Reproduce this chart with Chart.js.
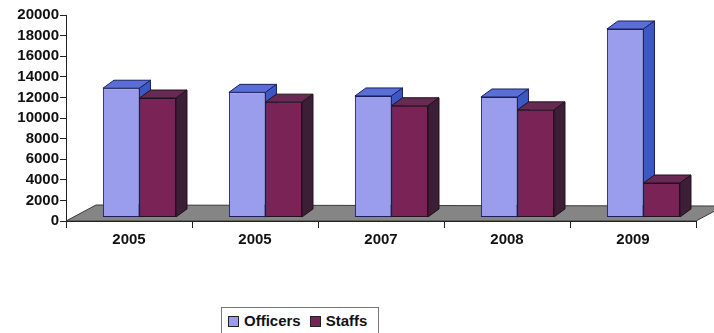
<!DOCTYPE html>
<html>
<head>
<meta charset="utf-8">
<script src="https://cdn.jsdelivr.net/npm/chart.js@4"></script>
<style>
  html, body { margin: 0; padding: 0; background: #fff; }
  #wrap { position: relative; width: 714px; height: 333px; }
  #legend {
    position: absolute; left: 221px; top: 307px; width: 158px; height: 30px;
    border: 1px solid #777; box-sizing: border-box; background: #fff;
    font: bold 15px "Liberation Sans", Arial, sans-serif; color: #111;
    display: flex; align-items: flex-start; padding: 4px 0 0 6px;
  }
  #legend span.box { display: inline-block; width: 9px; height: 9px; border: 1px solid #222; margin: 4px 5px 0 0; }
  #legend span.lbl { margin-right: 9px; }
</style>
</head>
<body>
<div id="wrap">
  <canvas id="c" width="714" height="333"></canvas>
  <div id="legend"></div>
</div>
<script>
const years = ['2005', '2005', '2007', '2008', '2009'];
const officers = [12500, 12100, 11750, 11650, 18250];
const staffs = [11550, 11150, 10800, 10400, 3300];
const yTicks = [0, 2000, 4000, 6000, 8000, 10000, 12000, 14000, 16000, 18000, 20000];

const colors = {
  officers: { front: '#9a9cec', top: '#5a6fd6', side: '#3c58c4', line: '#1c1f5e' },
  staffs: { front: '#7a2356', top: '#672a52', side: '#3b1f36', line: '#26101f' }
};

const FONT = { family: '"Liberation Sans", Arial, sans-serif', size: 15, weight: 'bold' };
const depth = { dx: 11, dy: -8 };

function faces(ctx, bar, c) {
  const p = bar.getProps(['x', 'y', 'base', 'width'], true);
  const l = p.x - p.width / 2, r = p.x + p.width / 2;
  ctx.lineWidth = 1;
  ctx.strokeStyle = c.line;
  // top
  ctx.beginPath();
  ctx.moveTo(l, p.y);
  ctx.lineTo(l + depth.dx, p.y + depth.dy);
  ctx.lineTo(r + depth.dx, p.y + depth.dy);
  ctx.lineTo(r, p.y);
  ctx.closePath();
  ctx.fillStyle = c.top;
  ctx.fill();
  ctx.stroke();
  // side
  ctx.beginPath();
  ctx.moveTo(r, p.y);
  ctx.lineTo(r + depth.dx, p.y + depth.dy);
  ctx.lineTo(r + depth.dx, p.base + depth.dy);
  ctx.lineTo(r, p.base);
  ctx.closePath();
  ctx.fillStyle = c.side;
  ctx.fill();
  ctx.stroke();
}

// floor and 3d faces of the columns
const threeD = {
  id: 'threeD',
  beforeDraw(chart) {
    const ctx = chart.ctx;
    const x = chart.scales.x, y = chart.scales.y;
    const y0 = y.getPixelForValue(0);
    ctx.save();
    ctx.beginPath();
    ctx.moveTo(x.left, y0);
    ctx.lineTo(x.right, y0);
    ctx.lineTo(x.right + 28, y0 - 15);
    ctx.lineTo(x.left + 30, y0 - 16);
    ctx.closePath();
    ctx.fillStyle = '#858585';
    ctx.fill();
    ctx.strokeStyle = '#3a3a3a';
    ctx.lineWidth = 1;
    ctx.stroke();
    ctx.restore();
  },
  afterDatasetsDraw(chart) {
    const ctx = chart.ctx;
    const off = chart.getDatasetMeta(0), st = chart.getDatasetMeta(1);
    ctx.save();
    off.data.forEach((bar, i) => {
      faces(ctx, bar, colors.officers);
      // staff column stands in front of the officer column's side
      st.data[i].draw(ctx);
      faces(ctx, st.data[i], colors.staffs);
    });
    ctx.restore();
  }
};

new Chart(document.getElementById('c'), {
  type: 'bar',
  data: {
    labels: years,
    datasets: [
      {
        label: 'Officers',
        data: officers.map((v, i) => ({ x: i, y: v })),
        backgroundColor: colors.officers.front,
        borderColor: colors.officers.line,
        borderWidth: 1,
        borderSkipped: false,
        categoryPercentage: 0.58,
        barPercentage: 1.0,
        xAxisID: 'xb', yAxisID: 'yb'
      },
      {
        label: 'Staffs',
        data: staffs.map((v, i) => ({ x: i, y: v })),
        backgroundColor: colors.staffs.front,
        borderColor: colors.staffs.line,
        borderWidth: 1,
        borderSkipped: false,
        categoryPercentage: 0.58,
        barPercentage: 1.0,
        xAxisID: 'xb', yAxisID: 'yb'
      }
    ]
  },
  options: {
    responsive: false,
    animation: false,
    layout: { padding: { left: 0, right: 18, top: 15, bottom: 82 } },
    scales: {
      x: {
        type: 'category',
        z: 1,
        grid: { offset: true, drawOnChartArea: false, drawTicks: true, tickLength: 7, color: '#222' },
        border: { display: true, color: '#222', width: 1 },
        ticks: { color: '#111', font: FONT, padding: 3, maxRotation: 0 },
        afterFit: s => { s.height = 30; }
      },
      y: {
        type: 'linear',
        min: 0, max: 20000,
        afterBuildTicks: s => { s.ticks = yTicks.map(v => ({ value: v })); },
        grid: { drawOnChartArea: false, drawTicks: true, tickLength: 6, color: '#222' },
        border: { display: true, color: '#222', width: 1 },
        ticks: { color: '#111', font: FONT, padding: 1, autoSkip: false, callback: v => String(v) },
        afterFit: s => { s.width = 66; }
      },
      // bars sit slightly behind the front edge of the floor
      xb: {
        type: 'linear', display: false, offset: false, min: -0.583, max: 4.417,
        afterBuildTicks: s => { s.ticks = years.map((_, i) => ({ value: i })); }
      },
      yb: { type: 'linear', display: false, min: -390, max: 19610 }
    },
    plugins: {
      legend: { display: false },
      tooltip: { enabled: false }
    }
  },
  plugins: [threeD]
});

const legend = document.getElementById('legend');
[['Officers', colors.officers], ['Staffs', colors.staffs]].forEach(([name, c]) => {
  const b = document.createElement('span');
  b.className = 'box';
  b.style.background = c.front;
  const t = document.createElement('span');
  t.className = 'lbl';
  t.textContent = name;
  legend.appendChild(b);
  legend.appendChild(t);
});
</script>
</body>
</html>
